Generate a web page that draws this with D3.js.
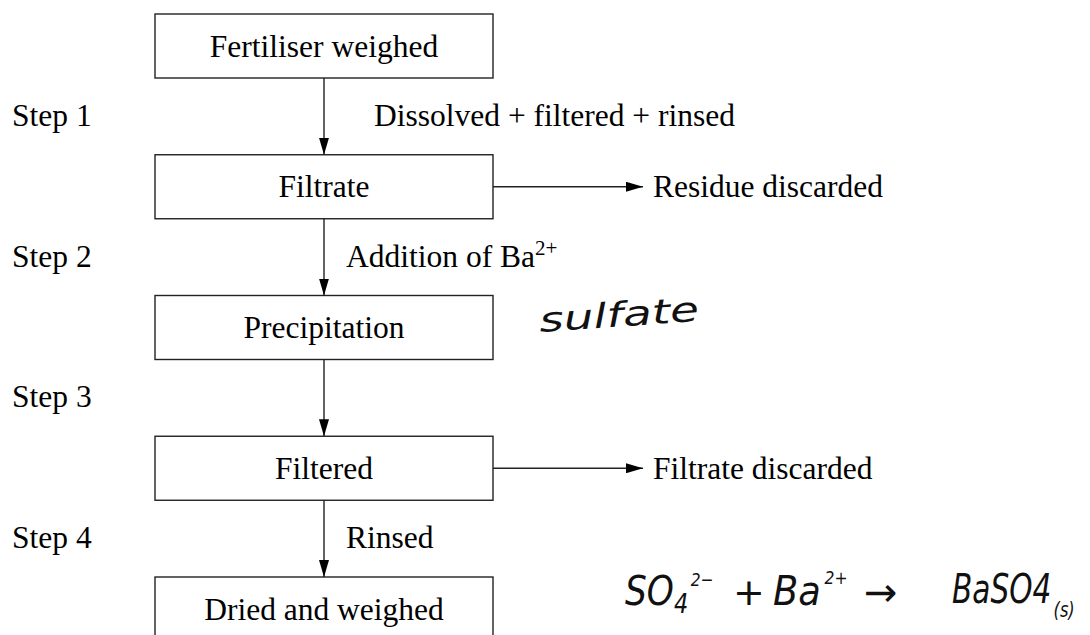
<!DOCTYPE html>
<html><head><meta charset="utf-8">
<script src="https://cdn.jsdelivr.net/npm/d3@7"></script>
<style>html,body{margin:0;padding:0;background:#fff;}svg{display:block;}</style>
</head><body>
<svg id="c" width="1090" height="635"></svg>
<script>
const nodes = ["Fertiliser weighed", "Filtrate", "Precipitation", "Filtered", "Dried and weighed"];
const steps = ["Step 1", "Step 2", "Step 3", "Step 4"];
const edgeLabels = ["Dissolved + filtered + rinsed", "Addition of Ba", "", "Rinsed"];
const edgeSup = ["", "2+", "", ""];
const sideOutputs = [{from: "Filtrate", label: "Residue discarded"}, {from: "Filtered", label: "Filtrate discarded"}];
const noteWord = "sulfate";

const svg = d3.select("#c");
const serif = "'Liberation Serif','Times New Roman',serif";
const hand = "'DejaVu Sans','Noto Sans',sans-serif";
const FS = 31.5;

const y = d3.scalePoint().domain(nodes).range([14, 577]);
const boxH = 64, boxX0 = 155, boxX1 = 493, cx = 324;

svg.append("defs").append("marker").attr("id","ah")
  .attr("viewBox","0 0 17 10").attr("refX",17).attr("refY",5)
  .attr("markerWidth",17).attr("markerHeight",10).attr("markerUnits","userSpaceOnUse")
  .attr("orient","auto")
  .append("path").attr("d","M0,0L17,5L0,10Z").attr("fill","#000");

// boxes
svg.selectAll("rect.node").data(nodes).join("rect").attr("class","node")
  .attr("x",boxX0).attr("y",d=>y(d)).attr("width",boxX1-boxX0).attr("height",boxH)
  .attr("fill","none").attr("stroke","#222").attr("stroke-width",1.4);
svg.selectAll("text.node").data(nodes).join("text").attr("class","node")
  .attr("x",cx).attr("y",d=>y(d)+boxH/2+10.5).attr("text-anchor","middle")
  .attr("font-family",serif).attr("font-size",FS).text(d=>d);

// vertical arrows
const links = d3.pairs(nodes);
svg.selectAll("line.v").data(links).join("line").attr("class","v")
  .attr("x1",cx).attr("x2",cx).attr("y1",d=>y(d[0])+boxH).attr("y2",d=>y(d[1]))
  .attr("stroke","#222").attr("stroke-width",1.4).attr("marker-end","url(#ah)");

// step labels
svg.selectAll("text.step").data(steps).join("text").attr("class","step")
  .attr("x",12).attr("y",(d,i)=>(y(nodes[i])+boxH+y(nodes[i+1]))/2+9.5)
  .attr("font-family",serif).attr("font-size",FS).text(d=>d);

// edge labels
const el = svg.selectAll("text.edge").data(edgeLabels).join("text").attr("class","edge")
  .attr("x",(d,i)=> i===0 ? 374 : 346)
  .attr("y",(d,i)=>(y(nodes[i])+boxH+y(nodes[i+1]))/2+9.5)
  .attr("font-family",serif).attr("font-size",FS);
el.append("tspan").text(d=>d);
el.append("tspan").attr("dy",-12).attr("font-size",21).text((d,i)=>edgeSup[i]);

// side outputs
svg.selectAll("line.h").data(sideOutputs).join("line").attr("class","h")
  .attr("x1",boxX1).attr("x2",643).attr("y1",d=>y(d.from)+boxH/2).attr("y2",d=>y(d.from)+boxH/2)
  .attr("stroke","#222").attr("stroke-width",1.4).attr("marker-end","url(#ah)");
svg.selectAll("text.h").data(sideOutputs).join("text").attr("class","h")
  .attr("x",653).attr("y",d=>y(d.from)+boxH/2+10.5)
  .attr("font-family",serif).attr("font-size",FS).text(d=>d.label);

// handwritten notes
const hw = (x, yy, fs, sx) => svg.append("text").attr("x",0).attr("y",0)
  .attr("transform",`translate(${x},${yy}) scale(${sx||1},1)`)
  .attr("font-family",hand).attr("font-style","italic").attr("font-weight",200)
  .attr("font-size",fs).attr("fill","#111");

hw(540, 332, 34).attr("transform","translate(540,332) rotate(-4)")
  .attr("textLength",160).attr("lengthAdjust","spacingAndGlyphs").text(noteWord);

const t1 = hw(625, 605, 40, 0.86);
t1.append("tspan").text("SO");
t1.append("tspan").attr("dy",8).attr("font-size",26).text("4");
t1.append("tspan").attr("dx",3).attr("dy",-27).attr("font-size",18).text("2−");

hw(733, 605, 38).text("+");

const t3 = hw(773, 605, 40, 0.92);
t3.append("tspan").text("Ba");
t3.append("tspan").attr("dx",4).attr("dy",-21).attr("font-size",17).text("2+");

hw(864, 606, 40).text("→");

const t4 = hw(952, 603, 40, 0.74);
t4.append("tspan").text("BaSO4");
t4.append("tspan").attr("dx",3).attr("dy",14).attr("font-size",22).text("(s)");
</script>
</body></html>
